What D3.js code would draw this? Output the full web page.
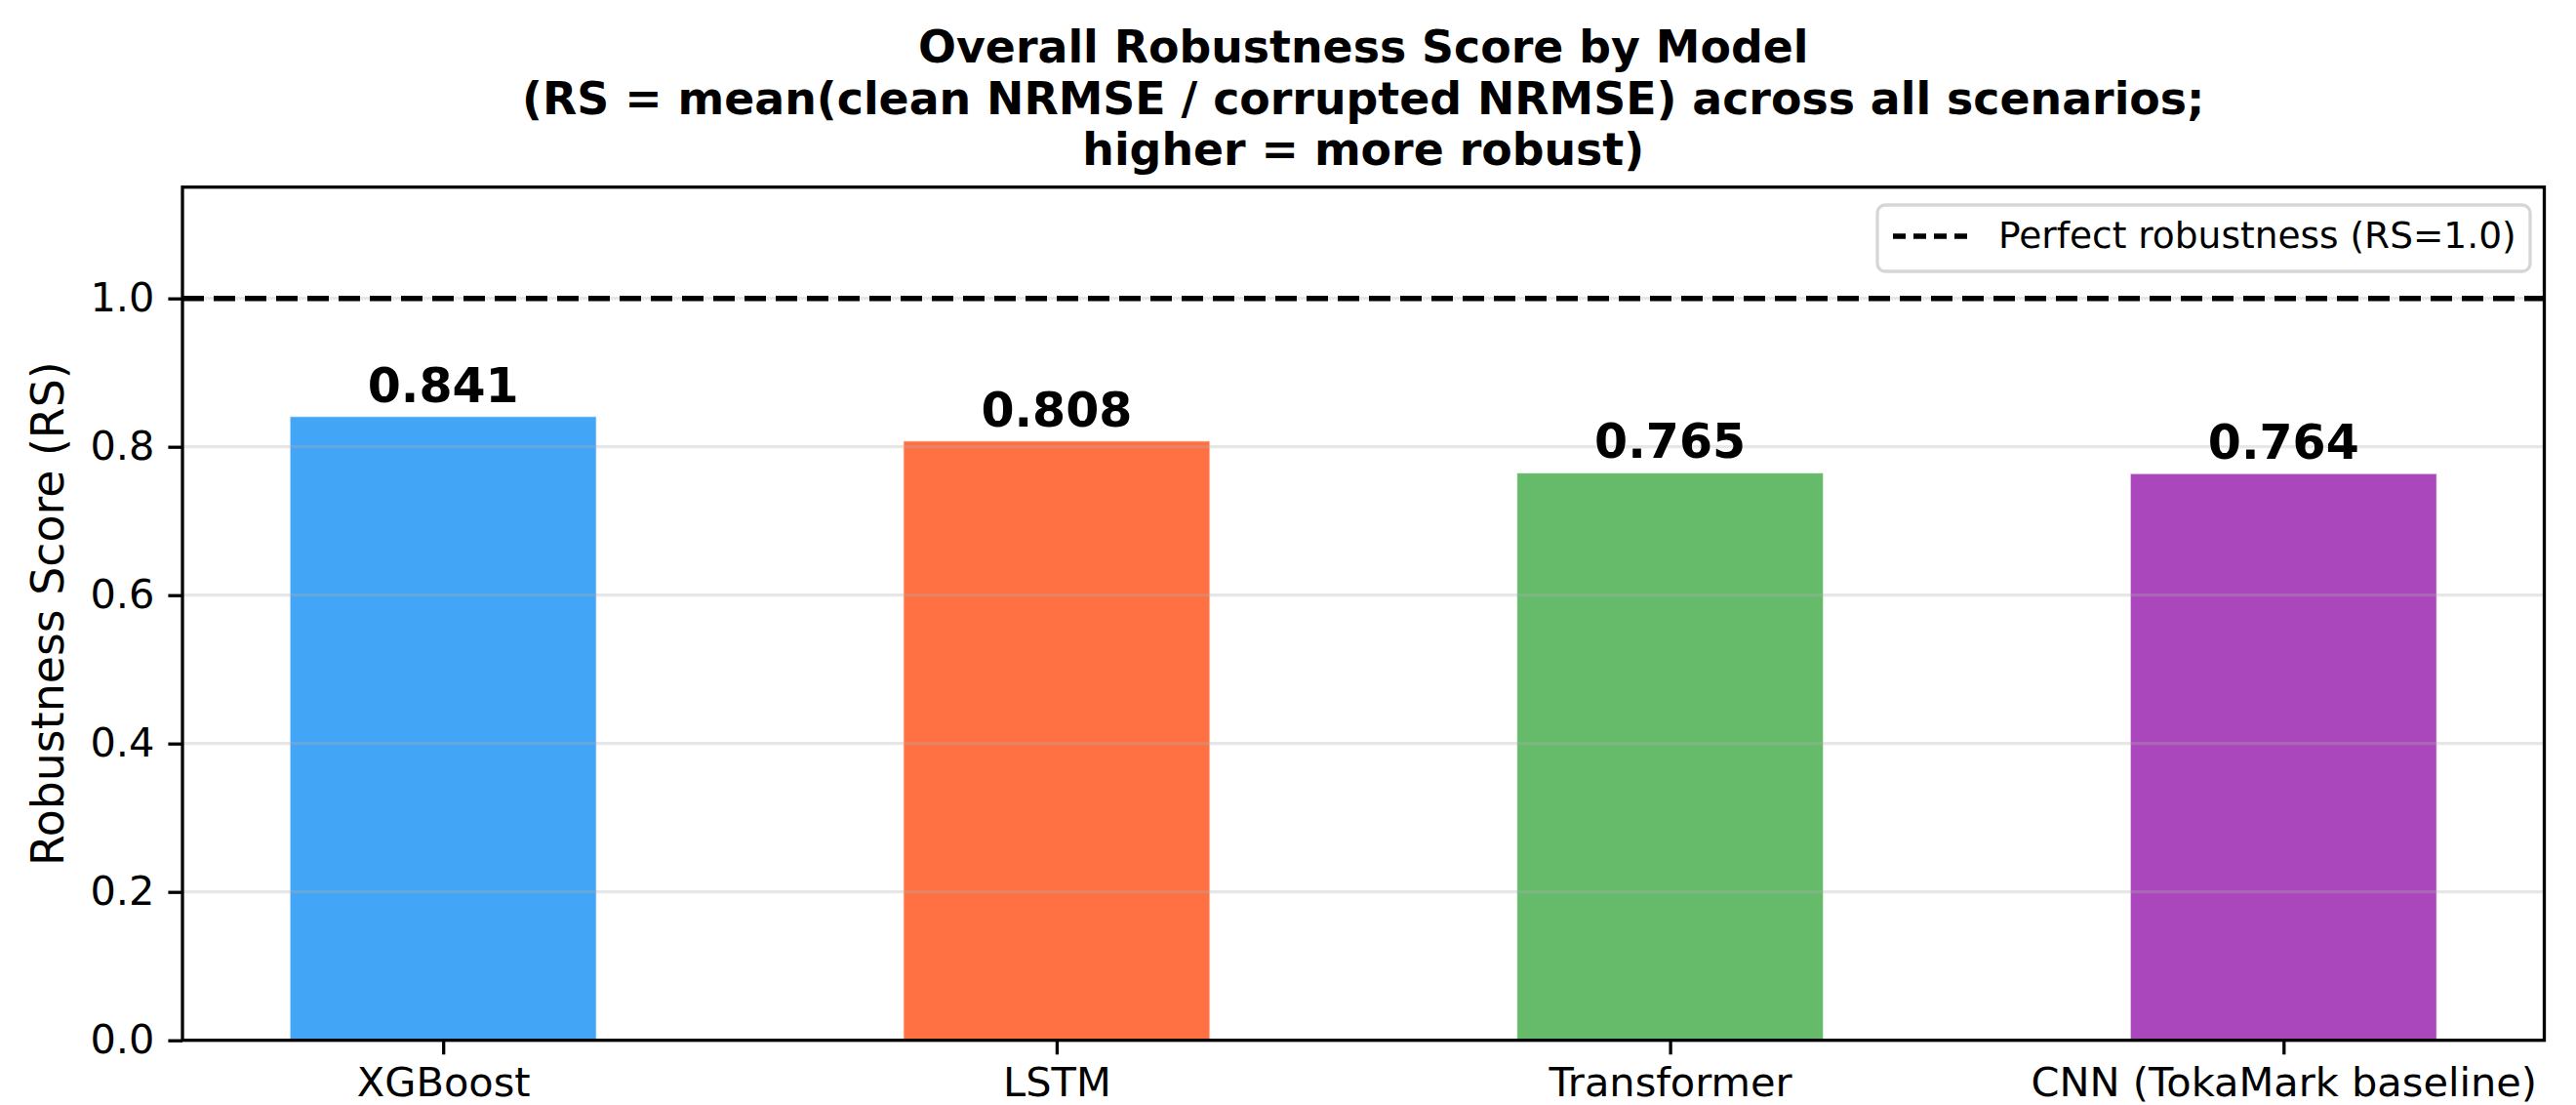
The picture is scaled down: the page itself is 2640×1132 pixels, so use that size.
<!DOCTYPE html>
<html>
<head>
<meta charset="utf-8">
<script src="https://cdn.jsdelivr.net/npm/d3@7"></script>
<style>
  html, body { margin: 0; padding: 0; background: #ffffff; }
  svg { display: block; font-family: "DejaVu Sans", sans-serif; }
</style>
</head>
<body>
<svg id="chart" width="2640" height="1132"></svg>
<script>
// ---- data ----
const categories = ["XGBoost", "LSTM", "Transformer", "CNN (TokaMark baseline)"];
const scores = [0.841, 0.808, 0.765, 0.764];
const barColors = ["#42A5F5", "#FF7043", "#66BB6A", "#AB47BC"];
const yTicks = [0.0, 0.2, 0.4, 0.6, 0.8, 1.0];
const referenceValue = 1.0;
const titleLines = [
  "Overall Robustness Score by Model",
  "(RS = mean(clean NRMSE / corrupted NRMSE) across all scenarios;",
  "higher = more robust)"
];
const yLabel = "Robustness Score (RS)";
const legendLabel = "Perfect robustness (RS=1.0)";

// ---- layout ----
const W = 2640, H = 1132;
const plot = { left: 187, right: 2607.5, top: 191.7, bottom: 1065.7 };
const barWidth = 0.5;

const svg = d3.select("#chart");

const x = d3.scaleLinear().domain([-0.425, categories.length - 1 + 0.425]).range([plot.left, plot.right]);
const y = d3.scaleLinear().domain([0, 1.15]).range([plot.bottom, plot.top]);

// background
svg.append("rect").attr("x", 0).attr("y", 0).attr("width", W).attr("height", H).attr("fill", "#ffffff");

// bars
svg.append("g").selectAll("rect")
  .data(scores)
  .join("rect")
  .attr("x", (d, i) => x(i - barWidth / 2))
  .attr("width", (d, i) => x(i + barWidth / 2) - x(i - barWidth / 2))
  .attr("y", d => y(d))
  .attr("height", d => y(0) - y(d))
  .attr("fill", (d, i) => barColors[i])
  .attr("stroke", "#ffffff")
  .attr("stroke-opacity", 0.7)
  .attr("stroke-width", 1.5);

// grid (above bars, as matplotlib axisbelow='line')
svg.append("g").selectAll("line")
  .data(yTicks.filter(t => t > 0))
  .join("line")
  .attr("x1", plot.left).attr("x2", plot.right)
  .attr("y1", d => y(d)).attr("y2", d => y(d))
  .attr("stroke", "#b0b0b0")
  .attr("stroke-opacity", 0.3)
  .attr("stroke-width", 3.3);

// reference line
svg.append("line")
  .attr("x1", plot.left).attr("x2", plot.right)
  .attr("y1", y(referenceValue)).attr("y2", y(referenceValue))
  .attr("stroke", "#000000")
  .attr("stroke-width", 5.5)
  .attr("stroke-dasharray", "22,10");

// value labels
svg.append("g").selectAll("text")
  .data(scores)
  .join("text")
  .attr("x", (d, i) => x(i))
  .attr("y", d => y(d) - 15)
  .attr("text-anchor", "middle")
  .attr("font-weight", "bold")
  .attr("font-size", 49)
  .attr("fill", "#000000")
  .text(d => d.toFixed(3));

// axes
const yAxis = d3.axisLeft(y).tickValues(yTicks).tickFormat(d3.format(".1f")).tickSize(14.6).tickPadding(14);
const gy = svg.append("g").attr("transform", `translate(${plot.left},0)`).call(yAxis);
gy.select(".domain").remove();
gy.selectAll(".tick line").attr("stroke", "#000").attr("stroke-width", 3.3);
gy.selectAll(".tick text").attr("font-size", 41.5).attr("fill", "#000").attr("font-family", "DejaVu Sans");

const xAxis = d3.axisBottom(x).tickValues(d3.range(categories.length)).tickFormat(i => categories[i]).tickSize(14.6).tickPadding(14);
const gx = svg.append("g").attr("transform", `translate(0,${plot.bottom})`).call(xAxis);
gx.select(".domain").remove();
gx.selectAll(".tick line").attr("stroke", "#000").attr("stroke-width", 3.3);
gx.selectAll(".tick text").attr("font-size", 41.5).attr("fill", "#000").attr("font-family", "DejaVu Sans")
  .attr("dy", null).attr("y", 57);

// spines (frame)
svg.append("rect")
  .attr("x", plot.left).attr("y", plot.top)
  .attr("width", plot.right - plot.left).attr("height", plot.bottom - plot.top)
  .attr("fill", "none").attr("stroke", "#000").attr("stroke-width", 3.3);

// y label
svg.append("text")
  .attr("transform", `translate(65,${(plot.top + plot.bottom) / 2}) rotate(-90)`)
  .attr("text-anchor", "middle")
  .attr("font-size", 45.8)
  .attr("fill", "#000")
  .text(yLabel);

// title
svg.append("g").selectAll("text")
  .data(titleLines)
  .join("text")
  .attr("x", (plot.left + plot.right) / 2)
  .attr("y", (d, i) => 64 + i * 52.5)
  .attr("text-anchor", "middle")
  .attr("font-weight", "bold")
  .attr("font-size", 45.8)
  .attr("fill", "#000")
  .text(d => d);

// legend
const lg = svg.append("g");
lg.append("rect")
  .attr("x", 1924).attr("y", 210).attr("width", 669).attr("height", 68)
  .attr("rx", 8).attr("ry", 8)
  .attr("fill", "#ffffff").attr("fill-opacity", 0.8)
  .attr("stroke", "#d6d6d6").attr("stroke-width", 3.3);
lg.append("line")
  .attr("x1", 1940).attr("x2", 2017).attr("y1", 242).attr("y2", 242)
  .attr("stroke", "#000").attr("stroke-width", 5.5).attr("stroke-dasharray", "13,8");
lg.append("text")
  .attr("x", 2048).attr("y", 254)
  .attr("font-size", 37.5)
  .attr("fill", "#000")
  .text(legendLabel);
</script>
</body>
</html>
